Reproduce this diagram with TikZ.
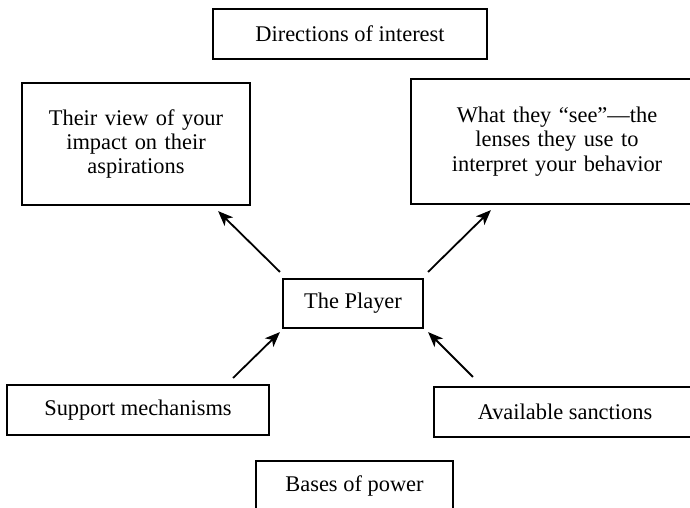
\documentclass[tikz,border=0pt]{standalone}
\usepackage{fontspec}
\setmainfont{Liberation Serif}
\usetikzlibrary{arrows.meta}
\begin{document}
\begin{tikzpicture}[x=1bp,y=-1bp,
  txt/.style={font=\fontsize{22.5}{24.5}\selectfont},
  box/.style={txt,draw=black,line width=2.2bp,align=center,inner sep=0pt},
  arr/.style={line width=1.8bp,-{Stealth[length=15bp,width=12bp,inset=4bp]}}]
\useasboundingbox (0,0) rectangle (690,508);
\begin{scope}
\clip (0,0) rectangle (690,508);
\node[box,minimum width=274bp,minimum height=50bp] (dir) at (350,34) {Directions of interest};
\node[box,minimum width=228bp,minimum height=122bp,text width=220bp] (view) at (136,144)
  {Their view of your\\impact on their\\aspirations};
\node[box,minimum width=292bp,minimum height=125bp,text width=280bp] (see) at (557,141.5)
  {What they “see”—the\\lenses they use to\\interpret your behavior};
\node[box,minimum width=140bp,minimum height=49bp] (player) at (353,303.5) {The Player};
\node[box,minimum width=262bp,minimum height=50bp] (support) at (138,410) {Support mechanisms};
\node[box,minimum width=262bp,minimum height=50bp] (avail) at (565,412) {Available sanctions};
\node[box,anchor=north,minimum width=197bp,text height=30bp,text depth=45bp] (bases)
  at (354.5,460) {Bases of power};
\end{scope}
\draw[arr] ([shift={(-2,-6)}]player.north west) -- ([shift={(-33,5)}]view.south east);
\draw[arr] ([shift={(4,-6)}]player.north east) -- ([shift={(81,5)}]see.south west);
\draw[arr] ([shift={(-37,-6)}]support.north east) -- ([shift={(-2,3)}]player.south west);
\draw[arr] ([shift={(40,-9)}]avail.north west) -- ([shift={(4,3)}]player.south east);
\end{tikzpicture}
\end{document}
